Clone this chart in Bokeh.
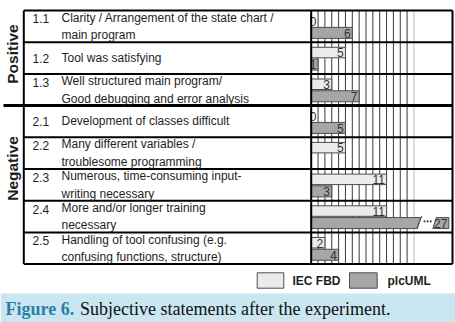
import math
from bokeh.plotting import figure
from bokeh.models import Range1d
from bokeh.core.properties import value
from bokeh.embed import file_html
from bokeh.resources import INLINE

# ---------------- data ----------------
categories = ["1.1", "1.2", "1.3", "2.1", "2.2", "2.3", "2.4", "2.5"]
statements = [
    "Clarity / Arrangement of the state chart /\nmain program",
    "Tool was satisfying",
    "Well structured main program/\nGood debugging and error analysis",
    "Development of classes difficult",
    "Many different variables /\ntroublesome programming",
    "Numerous, time-consuming input-\nwriting necessary",
    "More and/or longer training\nnecessary",
    "Handling of tool confusing (e.g.\nconfusing functions, structure)",
]
iec_fbd = [0, 5, 3, 0, 5, 11, 11, 2]
plcuml = [6, 1, 7, 5, None, 3, 27, 4]
groups = ["Positive", "Negative"]
group_sizes = [3, 5]
series_names = ["IEC FBD", "plcUML"]
caption_label = "Figure 6."
caption_text = "Subjective statements after the experiment."

# ---------------- layout constants ----------------
W, H = 455, 322
UNIT = 6.85          # px per count
X0PX = 310.7         # px of count 0
ROW = 31.7           # px per row
Y0PX = 10.0          # px of table top
AXIS_MAX = 15        # dotted limit line
BREAK_AT = 16.0      # where an over-long bar is cut

def px_x(px):
    return (px - X0PX) / UNIT

def px_y(py):
    return (py - Y0PX) / ROW

LIGHT = "#ebebeb"
DARK = "#a6a6a6"
EDGE = "#4d4d4d"
TXT = "#1e1e1e"
FONT = value("Liberation Sans")

p = figure(width=W, height=H, output_backend="svg", toolbar_location=None,
           x_range=Range1d(px_x(0), px_x(W)), y_range=Range1d(px_y(H), px_y(0)),
           x_axis_location=None, y_axis_location=None, min_border=0,
           outline_line_color=None, background_fill_color="white",
           border_fill_color="white")
p.xgrid.visible = False
p.ygrid.visible = False

n = len(categories)
TABLE_L = px_x(23.3)
TABLE_R = px_x(452)

# vertical count grid lines
gx = list(range(1, AXIS_MAX))
p.segment(x0=gx, y0=[0] * len(gx), x1=gx, y1=[n] * len(gx), line_color="#3a3a3a", line_width=1)
p.segment(x0=[AXIS_MAX], y0=[0], x1=[AXIS_MAX], y1=[n], line_color="#777777",
          line_width=1, line_dash="1 1")

# bars
off_a, off_b = -5.5 / ROW, 6.5 / ROW
h_a, h_b = 10.5 / ROW, 11.0 / ROW
ya = [i + 0.5 + off_a for i in range(n)]
yb = [i + 0.5 + off_b for i in range(n)]

p.hbar(y=ya, left=0, right=iec_fbd, height=h_a, fill_color=LIGHT,
       line_color=EDGE, line_width=1)

normal_y, normal_v = [], []
broken = []
for i, v in enumerate(plcuml):
    if v is None:
        continue
    if v > BREAK_AT:
        broken.append((yb[i], v))
    else:
        normal_y.append(yb[i])
        normal_v.append(v)
p.hbar(y=normal_y, left=0, right=normal_v, height=h_b, fill_color=DARK,
       line_color=EDGE, line_width=1)

slant = 0.5
for (yc, v) in broken:
    top, bot = yc - h_b / 2, yc + h_b / 2
    p.patch(x=[0, BREAK_AT, BREAK_AT - slant, 0], y=[top, top, bot, bot],
            fill_color=DARK, line_color=EDGE, line_width=1)
    p.segment(x0=[BREAK_AT - slant - 0.1], y0=[bot], x1=[BREAK_AT + 0.15], y1=[top - 0.05],
              line_color=EDGE, line_width=1)
    dx = [BREAK_AT + 0.55, BREAK_AT + 1.0, BREAK_AT + 1.45]
    p.scatter(x=dx, y=[yc - 0.05] * 3, size=2.2, marker="circle",
              fill_color=EDGE, line_color=None)
    s0 = BREAK_AT + 1.75
    s1 = px_x(448.3)
    p.patch(x=[s0 + slant, s1, s1, s0], y=[top, top, bot, bot],
            fill_color=DARK, line_color=EDGE, line_width=1)
    p.text(x=[s1 - 0.2], y=[yc + 0.01], text=[str(v)], text_font=FONT,
           text_font_size="12px", text_align="right", text_baseline="middle",
           text_color="#333333")

# value labels
lx, ly, lt = [], [], []
for i in range(n):
    for v, yy in ((iec_fbd[i], ya[i]), (plcuml[i], yb[i])):
        if v is None or v > BREAK_AT:
            continue
        lx.append(max(v, 1) - 0.25)
        ly.append(yy + 0.01)
        lt.append(str(v))
p.text(x=lx, y=ly, text=lt, text_font=FONT, text_font_size="12px",
       text_align="right", text_baseline="middle", text_color="#333333")

# table lines
p.segment(x0=[TABLE_L, TABLE_L, TABLE_L, TABLE_R, 0],
          y0=[0, n, 0, 0, 0],
          x1=[TABLE_R, TABLE_R, TABLE_L, TABLE_R, 0],
          y1=[0, n, n, n, n], line_color="black", line_width=2)
sep_rows = [r for r in range(1, n) if r != group_sizes[0]]
p.segment(x0=[TABLE_L] * len(sep_rows), y0=sep_rows, x1=[TABLE_R] * len(sep_rows),
          y1=sep_rows, line_color="black", line_width=2)
p.segment(x0=[px_x(3)], y0=[group_sizes[0]], x1=[TABLE_R], y1=[group_sizes[0]],
          line_color="black", line_width=3)

# row texts
LINE_H = 15.0 / ROW
num_y, txt_y = [], []
for i, s in enumerate(statements):
    nl = s.count("\n") + 1
    first = i + 0.5 - (nl - 1) * LINE_H / 2
    num_y.append(first)
    txt_y.append(i + 0.5)
p.text(x=[px_x(32)] * n, y=num_y, text=categories, text_font=FONT,
       text_font_size="12px", text_align="left", text_baseline="middle", text_color=TXT)
p.text(x=[px_x(61)] * n, y=txt_y, text=statements, text_font=FONT,
       text_font_size="12px", text_align="left", text_baseline="middle",
       text_color=TXT, text_line_height=1.25)

# group labels
p.text(x=[px_x(12), px_x(12)], y=[px_y(53.5), px_y(168)], text=groups, text_font=FONT,
       text_font_size="15.5px", text_font_style="bold", text_align="center",
       text_baseline="middle", angle=math.pi / 2, text_color=TXT)

# legend
ly0, ly1 = px_y(272.3), px_y(287.7)
p.quad(left=[px_x(256.7), px_x(349)], right=[px_x(283.3), px_x(376.7)],
       top=[ly0, ly0], bottom=[ly1, ly1], fill_color=[LIGHT, DARK],
       line_color=EDGE, line_width=1)
p.text(x=[px_x(292), px_x(387)], y=[px_y(280.5)] * 2, text=series_names, text_font=FONT,
       text_font_size="12px", text_font_style="bold", text_align="left",
       text_baseline="middle", text_color=TXT)

# caption
p.quad(left=[px_x(0)], right=[px_x(W)], top=[px_y(293)], bottom=[px_y(H)],
       fill_color="#c9e6f1", line_color=None)
p.text(x=[px_x(5)], y=[px_y(308.5)], text=[caption_label], text_font=value("Liberation Serif"),
       text_font_size="18px", text_font_style="bold", text_align="left",
       text_baseline="alphabetic", text_color="#2b7ea4")
p.text(x=[px_x(79.5)], y=[px_y(308.5)], text=[caption_text], text_font=value("Liberation Serif"),
       text_font_size="18px", text_align="left", text_baseline="alphabetic",
       text_color="#111111")

open("out.html", "w").write(file_html(p, INLINE))
